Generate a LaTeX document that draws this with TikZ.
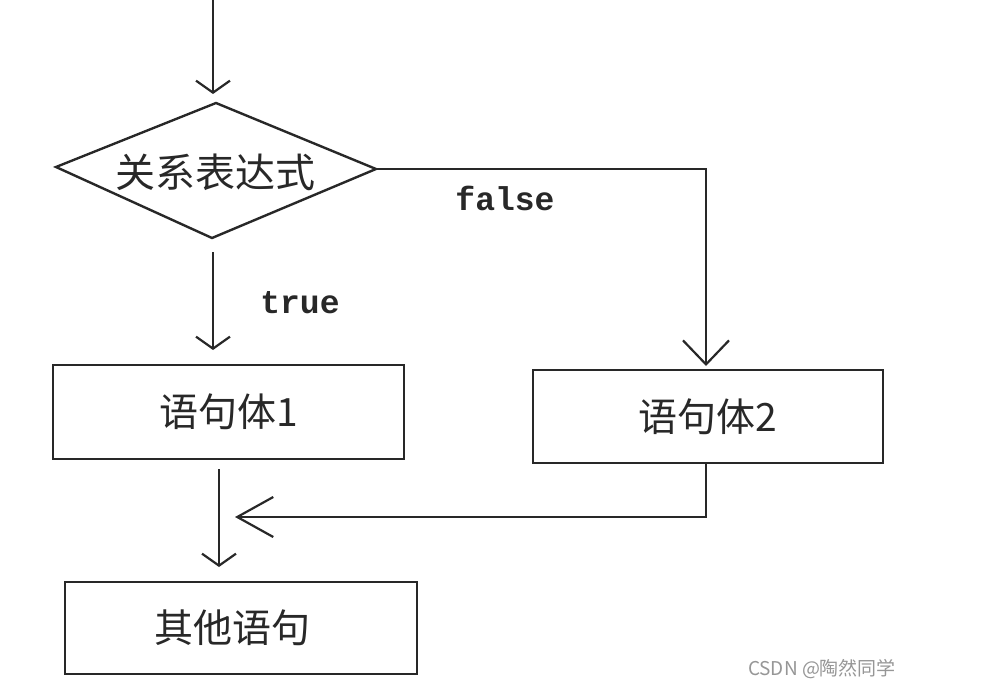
\documentclass[tikz,border=0pt]{standalone}
\usepackage{fontspec}
\setmainfont{Liberation Serif}
\newfontfamily\cjk{Noto Sans CJK SC}
\newfontfamily\monof{Liberation Mono}
\usetikzlibrary{arrows.meta}
\definecolor{ink}{RGB}{40,40,40}
\definecolor{wm}{RGB}{150,150,150}
\tikzset{
  conn/.style={draw=ink, line width=2.4pt},
  barb/.style={-{Straight Barb[length=12pt,width=34pt,line width=2.2pt]}},
  box/.style={draw=ink, line width=2.4pt, inner sep=0pt, font=\cjk\fontsize{39}{45}\selectfont, text=ink},
  lbl/.style={font=\monof\bfseries\fontsize{33}{38}\selectfont, text=ink, inner sep=0pt},
}
\begin{document}
\begin{tikzpicture}[x=1pt,y=-1pt]
\useasboundingbox[fill=white] (0,0) rectangle (986,698);
% diamond
\coordinate (dT) at (216,103);
\coordinate (dR) at (376,169);
\coordinate (dB) at (212,238);
\coordinate (dL) at (56,167);
\draw[conn, line join=miter] (dT) -- (dR) -- (dB) -- (dL) -- cycle;
\node[font=\cjk\fontsize{40}{46}\selectfont, text=ink, inner sep=0pt] (cond) at (215,172) {关系表达式};
% boxes
\node[box, minimum width=351pt, minimum height=94pt] (b1) at (228.5,412) {语句体1};
\node[box, minimum width=350pt, minimum height=93pt] (b2) at (708,416.5) {语句体2};
\node[box, minimum width=352pt, minimum height=92pt] (b3) at (241,628) {其他语句\hspace*{18pt}};
% coordinates
\coordinate (top) at (213,0);
\coordinate (topend) at (213,94);
\coordinate (ts) at (213,252);
\coordinate (te) at (213,350);
\coordinate (fc) at (706,169);
\coordinate (fe) at (706,366);
\coordinate (s1) at (219,469);
\coordinate (e1) at (219,567);
\coordinate (m2) at (706,517);
\coordinate (me) at (235,517);
% connectors
\draw[conn, barb] (top) -- (topend);
\draw[conn, barb] (ts) -- (te);
\draw[conn, -{Straight Barb[length=24pt,width=46pt,line width=2.2pt]}] (dR) -- (fc) -- (fe);
\draw[conn, barb] (s1) -- (e1);
\draw[conn, -{Straight Barb[length=36pt,width=40pt,line width=2.2pt]}] (b2.south -| m2) -- (m2) -- (me);
% labels
\node[lbl] (tl) at (300,303) {true};
\node[lbl] (fl) at (505,198) {false};
\node[font=\cjk\fontsize{19}{22}\selectfont, text=wm, inner sep=0pt] (wmk) at (822,669) {CSDN @陶然同学};
\end{tikzpicture}
\end{document}
